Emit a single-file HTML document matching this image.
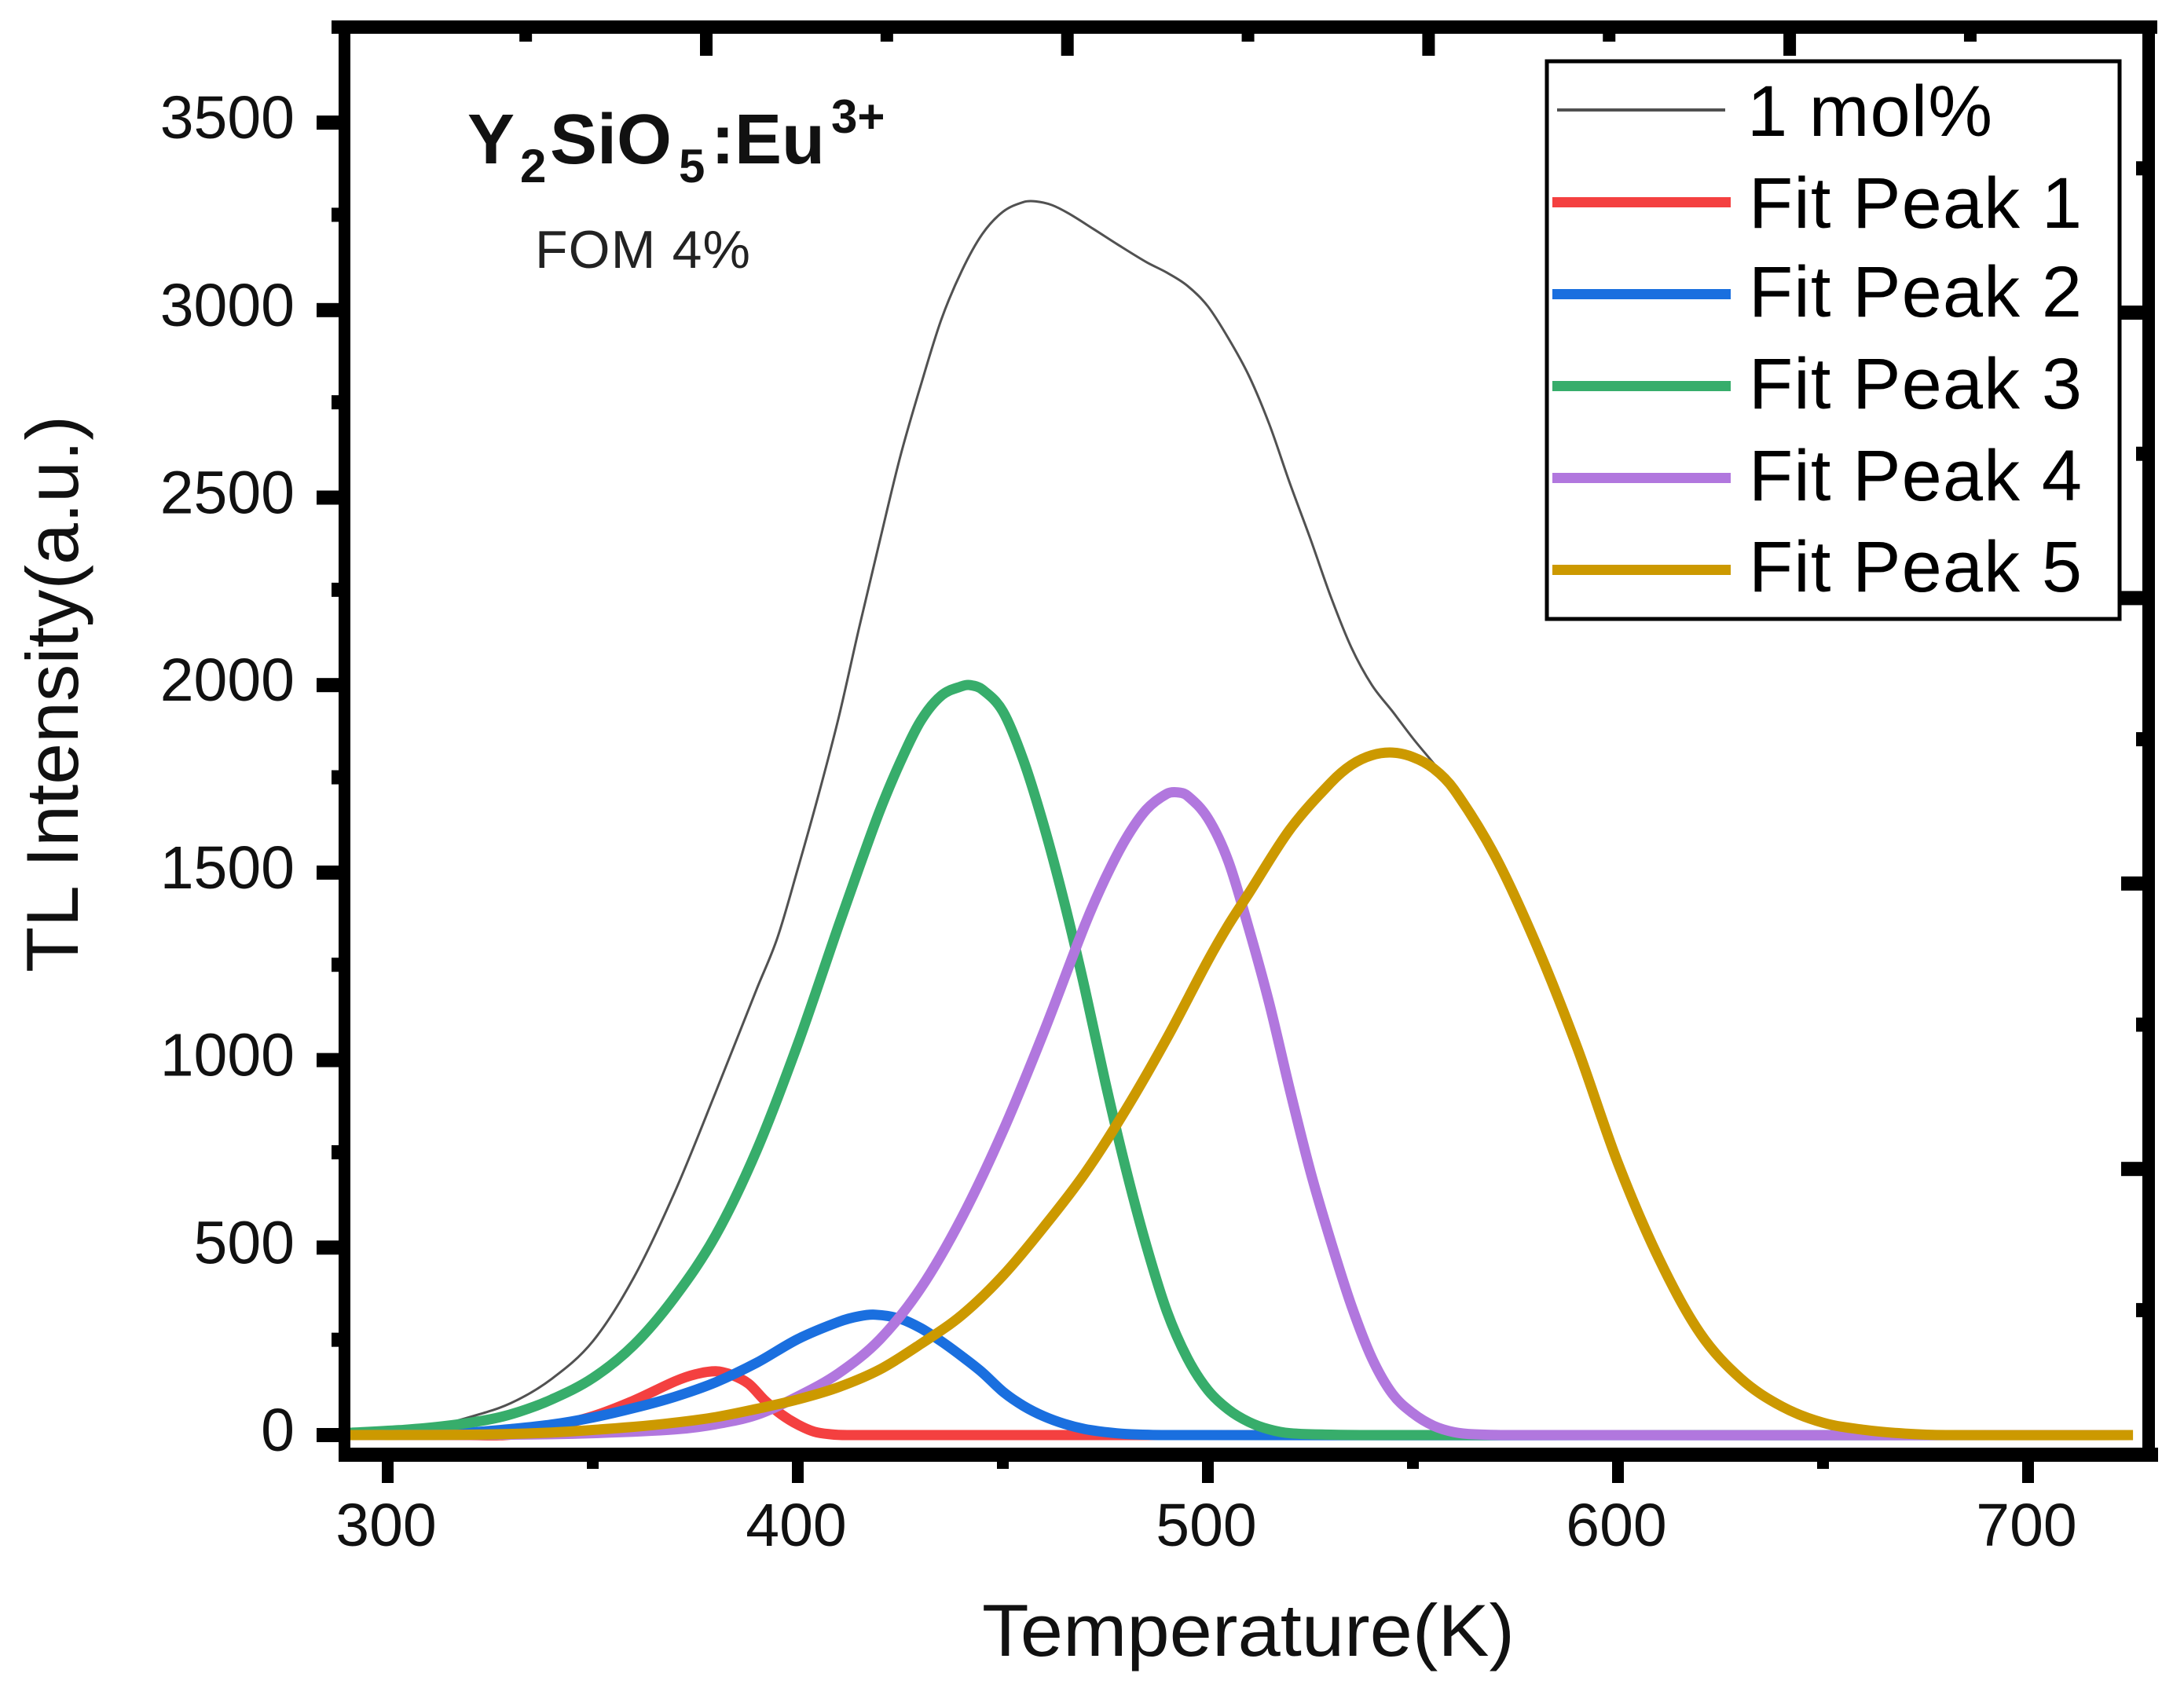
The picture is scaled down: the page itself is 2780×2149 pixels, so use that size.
<!DOCTYPE html>
<html lang="en">
<head>
<meta charset="utf-8">
<title>TL Intensity vs Temperature</title>
<style>
html,body{margin:0;padding:0;background:#fff;}
svg{display:block;font-family:"Liberation Sans",Arial,sans-serif;}
</style>
</head>
<body>
<svg id="chart" xmlns="http://www.w3.org/2000/svg" width="2780" height="2149" viewBox="0 0 2780 2149">
  <rect x="0" y="0" width="2780" height="2149" fill="#ffffff"/>
  <g id="series-layer"></g>
  <g id="axes-layer">
    <rect x="422" y="26" width="2324" height="17" fill="#000"/>
    <rect x="431" y="26" width="15" height="1825" fill="#000"/>
    <rect x="2727" y="26" width="16" height="1825" fill="#000"/>
    <rect x="431" y="1843" width="2316" height="18" fill="#000"/>
  </g>
  <text x="1250" y="2108" font-size="94" fill="#111" textLength="678" lengthAdjust="spacingAndGlyphs">Temperature(K)</text>
  <text transform="translate(99,1238) rotate(-90)" x="0" y="0" font-size="94" fill="#111" textLength="709" lengthAdjust="spacingAndGlyphs">TL Intensity(a.u.)</text>
  <text font-size="90" font-weight="700" fill="#111"><tspan x="595" y="208">Y</tspan><tspan x="662" y="232" font-size="60">2</tspan><tspan x="700" y="208">SiO</tspan><tspan x="864" y="232" font-size="60">5</tspan><tspan x="905" y="208">:Eu</tspan><tspan x="1058" y="169" font-size="60">3+</tspan></text>
  <text x="681" y="341" font-size="68" fill="#222" textLength="274" lengthAdjust="spacing">FOM 4%</text>
  <g>
    <rect x="1969" y="78" width="729" height="710" fill="#ffffff" stroke="#000" stroke-width="5"/>
    <g>
      <rect x="1982" y="138" width="214" height="4" fill="#515151"/>
      <text x="2224" y="173" font-size="92" fill="#000" textLength="312" lengthAdjust="spacing">1 mol%</text>
    </g>
    <g>
      <rect x="1976" y="251" width="227" height="13" fill="#f44040"/>
      <text x="2226" y="290" font-size="92" fill="#000" textLength="424" lengthAdjust="spacing">Fit Peak 1</text>
    </g>
    <g>
      <rect x="1976" y="368" width="227" height="13" fill="#1a6fdf"/>
      <text x="2226" y="403" font-size="92" fill="#000" textLength="424" lengthAdjust="spacing">Fit Peak 2</text>
    </g>
    <g>
      <rect x="1976" y="485" width="227" height="13" fill="#37ad6b"/>
      <text x="2226" y="520" font-size="92" fill="#000" textLength="424" lengthAdjust="spacing">Fit Peak 3</text>
    </g>
    <g>
      <rect x="1976" y="602" width="227" height="13" fill="#b177de"/>
      <text x="2226" y="637" font-size="92" fill="#000" textLength="424" lengthAdjust="spacing">Fit Peak 4</text>
    </g>
    <g>
      <rect x="1976" y="719" width="227" height="13" fill="#cc9900"/>
      <text x="2226" y="753" font-size="92" fill="#000" textLength="424" lengthAdjust="spacing">Fit Peak 5</text>
    </g>
  </g>
</svg>
<script>
const xTickLabels = [300, 400, 500, 600, 700];
const xMinorTicks = [350, 450, 550, 650];
const yTickLabels = [0, 500, 1000, 1500, 2000, 2500, 3000, 3500];
const yMinorTicks = [250, 750, 1250, 1750, 2250, 2750, 3250];
const topMajorTicks = [400, 500, 600, 700];
const topMinorTicks = [350, 450, 550, 650, 750];
const rightMajorTicks = [3000, 2500, 2000, 1500];
const rightMinorTicks = [3250, 2750, 2250, 1750, 1250];

const totalT = [289,300,310,320,330,340,350,360,370,380,390,395,400,405,410,415,420,425,430,435,440,445,450,455,458,462,466,472,478,485,490,495,500,505,510,515,520,525,530,535,540,545,550,555,560];
const totalV = [2,6,20,48,85,150,250,420,648,915,1190,1325,1510,1705,1915,2155,2385,2610,2800,2975,3105,3203,3262,3288,3290,3280,3258,3217,3175,3128,3100,3065,3010,2925,2825,2695,2538,2390,2235,2100,2000,1930,1858,1792,1725];

const peak1T = [289,320,330,340,350,360,370,375,380,384,388,392,396,400,404,408,412,725];
const peak1V = [0,0,1,22,50,92,143,162,170,160,137,92,55,28,9,2,0,0];

const peak2T = [289,310,320,330,340,350,360,370,380,390,400,410,415,419,425,430,435,440,445,450,455,460,465,470,475,480,490,725];
const peak2V = [0,2,7,16,28,47,72,102,141,193,256,302,317,321,310,285,250,210,167,116,78,50,30,16,8,3,0,0];

const peak3T = [289,304,314,325,332,340,350,360,370,380,390,400,410,415,420,425,430,435,440,442,445,450,455,460,465,470,475,480,485,490,495,500,505,510,515,520,530,540,725];
const peak3V = [5,14,24,42,62,95,152,240,368,533,760,1043,1360,1515,1665,1795,1905,1972,1997,2000,1988,1930,1800,1625,1420,1190,940,710,505,330,205,120,68,35,15,5,1,0,0];

const peak4T = [289,330,350,370,380,390,400,410,420,430,440,450,460,470,475,480,485,490,492.5,495,500,505,510,515,520,525,530,535,540,545,550,555,560,565,575,725];
const peak4V = [0,1,5,15,29,54,103,165,255,392,580,810,1075,1360,1485,1590,1668,1710,1714,1705,1645,1530,1350,1150,920,703,516,345,205,110,58,25,8,2,0,0];

const peak5T = [289,320,340,360,370,380,390,400,410,420,430,440,450,460,470,480,490,500,505,510,520,530,535,540,545,550,555,560,570,580,590,600,610,620,630,640,650,660,670,680,725.6];
const peak5V = [0,1,7,22,33,48,70,95,128,175,243,320,425,555,698,868,1058,1265,1360,1445,1615,1740,1787,1813,1820,1808,1778,1722,1545,1310,1035,725,470,272,150,76,33,14,4,0,0];

function xScale(t){ return 493.5 + (t - 300) * 5.22; }
function yScale(v){ return 1827 - v * 0.4774; }
function xTopScale(t){ return 899 + (t - 400) * 4.597; }
function yRightScale(v){ return 398 + (3000 - v) * 0.7268; }

const NS = 'http://www.w3.org/2000/svg';
const axesLayer = document.getElementById('axes-layer');
const seriesLayer = document.getElementById('series-layer');
const chartRoot = document.getElementById('chart');

function addRect(parent, x, y, w, h){
  const r = document.createElementNS(NS, 'rect');
  r.setAttribute('x', x);
  r.setAttribute('y', y);
  r.setAttribute('width', w);
  r.setAttribute('height', h);
  r.setAttribute('fill', '#000');
  parent.appendChild(r);
  return r;
}

function addLabel(x, y, anchor, str){
  const t = document.createElementNS(NS, 'text');
  t.setAttribute('x', x);
  t.setAttribute('y', y);
  t.setAttribute('text-anchor', anchor);
  t.setAttribute('font-size', '77');
  t.setAttribute('fill', '#111');
  t.textContent = str;
  chartRoot.appendChild(t);
  return t;
}

xTickLabels.forEach(function(t){
  const tick = addRect(axesLayer, xScale(t) - 7.5, 1861, 15, 27);
  
  
  const label = addLabel(xScale(t) - 2, 1968, 'middle', String(t));
  
  
});
xMinorTicks.forEach(function(t){
  const tick = addRect(axesLayer, xScale(t) - 7.5, 1861, 15, 9);
  
  
});
yTickLabels.forEach(function(v){
  const tick = addRect(axesLayer, 403, yScale(v) - 9, 28, 18);
  
  
  const label = addLabel(375, yScale(v) + 20, 'end', String(v));
  
  
});
yMinorTicks.forEach(function(v){
  const tick = addRect(axesLayer, 422, yScale(v) - 11, 9, 18);
  
  
});
topMajorTicks.forEach(function(t){
  const tick = addRect(axesLayer, xTopScale(t) - 8, 43, 16, 28);
  
  
});
topMinorTicks.forEach(function(t){
  const tick = addRect(axesLayer, xTopScale(t) - 8, 43, 16, 10);
  
  
});
rightMajorTicks.forEach(function(v){
  const tick = addRect(axesLayer, 2700, yRightScale(v) - 9, 28, 18);
  
  
});
rightMinorTicks.forEach(function(v){
  const tick = addRect(axesLayer, 2719, yRightScale(v) - 11, 9, 18);
  
  
});

function smoothPath(ts, vs){
  const pts = ts.map(function(t, i){ return [xScale(t), yScale(vs[i])]; });
  let d = 'M' + pts[0][0].toFixed(1) + ' ' + pts[0][1].toFixed(1);
  for (let i = 0; i < pts.length - 1; i++){
    const p0 = pts[Math.max(i - 1, 0)];
    const p1 = pts[i];
    const p2 = pts[i + 1];
    const p3 = pts[Math.min(i + 2, pts.length - 1)];
    const seg = p2[0] - p1[0];
    const s1 = (p2[1] - p0[1]) / Math.max(p2[0] - p0[0], 1);
    const s2 = (p3[1] - p1[1]) / Math.max(p3[0] - p1[0], 1);
    const c1x = p1[0] + seg / 3;
    const c1y = p1[1] + s1 * seg / 3;
    const c2x = p2[0] - seg / 3;
    const c2y = p2[1] - s2 * seg / 3;
    d += 'C' + c1x.toFixed(1) + ' ' + c1y.toFixed(1) + ' ' + c2x.toFixed(1) + ' ' + c2y.toFixed(1) + ' ' + p2[0].toFixed(1) + ' ' + p2[1].toFixed(1);
  }
  return d;
}

function drawSeries(ts, vs, color, width){
  const p = document.createElementNS(NS, 'path');
  p.setAttribute('d', smoothPath(ts, vs));
  p.setAttribute('fill', 'none');
  p.setAttribute('stroke', color);
  p.setAttribute('stroke-width', width);
  p.setAttribute('stroke-linejoin', 'round');
  seriesLayer.appendChild(p);
  return p;
}

const lineTotal = drawSeries(totalT, totalV, '#515151', 3);


const linePeak1 = drawSeries(peak1T, peak1V, '#f44040', 13);


const linePeak2 = drawSeries(peak2T, peak2V, '#1a6fdf', 13);


const linePeak3 = drawSeries(peak3T, peak3V, '#37ad6b', 13);


const linePeak4 = drawSeries(peak4T, peak4V, '#b177de', 13);


const linePeak5 = drawSeries(peak5T, peak5V, '#cc9900', 13);


</script>
</body>
</html>
